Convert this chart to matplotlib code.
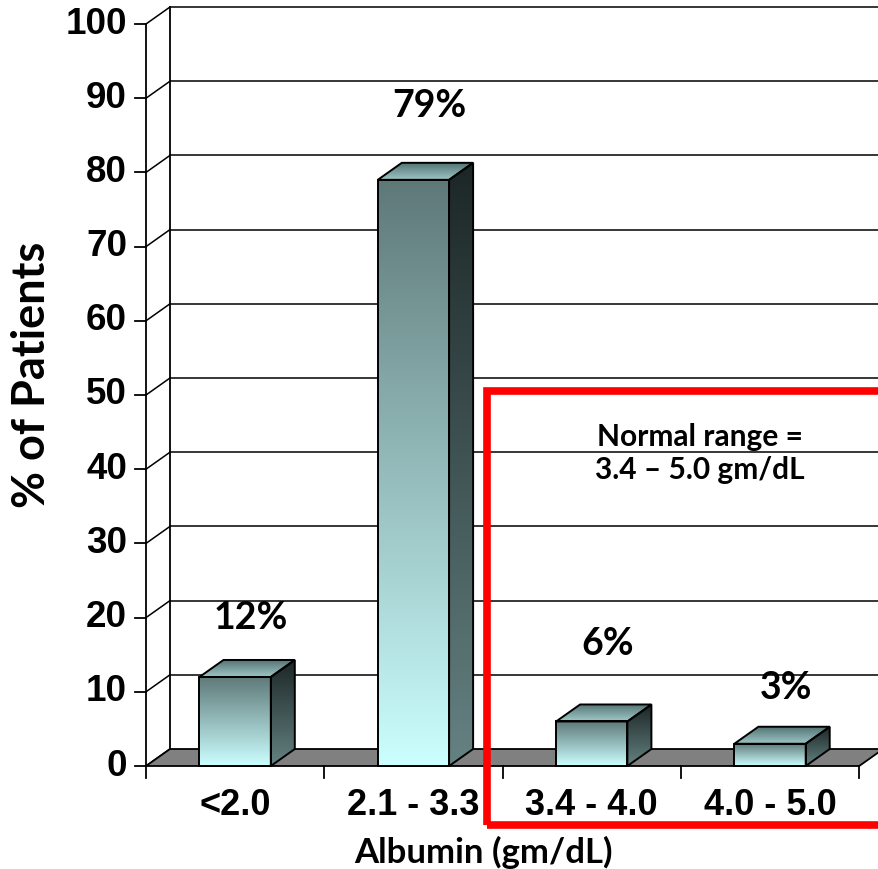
import numpy as np
import matplotlib
matplotlib.use('Agg')
import matplotlib.pyplot as plt
from matplotlib.patches import Polygon, Rectangle
from matplotlib.colors import LinearSegmentedColormap

categories = ['<2.0', '2.1 - 3.3', '3.4 - 4.0', '4.0 - 5.0']
percent = [12, 79, 6, 3]
value_labels = ['12%', '79%', '6%', '3%']
label_lift = [8, 10, 10.5, 7.5]
yticks = list(range(0, 101, 10))

# pixel geometry of the pseudo-3D frame
W, H = 879, 869
x0_px, slot_px = 146, 178.3
y0_px, unit_px = 766, 7.42
DX = 24 / slot_px       # depth offset, x direction
DY = 17 / unit_px       # depth offset, y direction
BAR_W = 0.40

fig = plt.figure(figsize=(W / 100, H / 100), dpi=100)
ax = fig.add_axes([0, 0, 1, 1])
ax.set_xlim(-x0_px / slot_px - 0.5, (W - x0_px) / slot_px - 0.5)
ax.set_ylim(-(H - y0_px) / unit_px, y0_px / unit_px)
ax.axis('off')

arial = 'Liberation Sans'
calib = 'Lato'

# back wall grid and side wall
left, right = -0.5, 3.5
for v in yticks:
    if v > 0:
        ax.plot([left + DX, 4.5], [v + DY, v + DY], color='black', lw=1.1, zorder=1)
    ax.plot([left, left + DX], [v, v + DY], color='black', lw=1.1, zorder=1)
    ax.plot([left - 11 / slot_px, left], [v, v], color='black', lw=1.3, zorder=1)
    ax.text(left - 19 / slot_px, v, str(v), ha='right', va='center',
            fontsize=26.5, fontweight='bold', family=arial)
ax.plot([left, left], [0, 100], color='black', lw=1.3, zorder=1)
ax.plot([left + DX, left + DX], [DY, 100 + DY], color='black', lw=1.3, zorder=1)

# floor
floor = Polygon([(left, 0), (right, 0), (right + DX, DY), (4.5, DY), (4.5, DY),
                 (left + DX, DY)], closed=True, facecolor='#808080',
                edgecolor='black', lw=1.3, zorder=2)
ax.add_patch(floor)
for i in range(len(categories) + 1):
    xt = left + i
    ax.plot([xt, xt], [0, -12 / unit_px], color='black', lw=1.3, zorder=2)


def shaded(poly, c_top, c_bot, extent):
    patch = Polygon(poly, closed=True, facecolor='none', edgecolor='black',
                    lw=1.4, zorder=4)
    ax.add_patch(patch)
    cmap = LinearSegmentedColormap.from_list('g', [c_top, c_bot])
    grad = np.linspace(0, 1, 256).reshape(-1, 1)
    im = ax.imshow(grad, cmap=cmap, extent=extent, aspect='auto',
                   origin='upper', zorder=3, interpolation='bilinear')
    im.set_clip_path(patch)


for i, v in enumerate(percent):
    xl, xr = i - BAR_W / 2, i + BAR_W / 2
    front = [(xl, 0), (xr, 0), (xr, v), (xl, v)]
    side = [(xr, 0), (xr + DX, DY), (xr + DX, v + DY), (xr, v)]
    top = [(xl, v), (xr, v), (xr + DX, v + DY), (xl + DX, v + DY)]
    shaded(front, '#5e7878', '#ccffff', (xl, xr, 0, v))
    shaded(side, '#1c2626', '#658282', (xr, xr + DX, 0, v + DY))
    shaded(top, '#557575', '#9fc6c6', (xl, xr + DX, v, v + DY))
    ax.text(i + DX / 2 + 0.02, v + label_lift[i], value_labels[i], ha='center',
            va='center', fontsize=27, fontweight='bold', family=calib)
    ax.text(i, -5.26, categories[i], ha='center', va='center', fontsize=26,
            fontweight='bold', family=arial)

# normal range box
box = Rectangle((1.4125, -7.95), 3.0, 58.5, facecolor='none',
                edgecolor='#ff0000', lw=5.5, zorder=6)
ax.add_patch(box)
ax.text(2.607, 44.3, 'Normal range =', ha='center', va='center', fontsize=21.5,
        fontweight='bold', family=calib, zorder=7)
ax.text(2.607, 39.9, '3.4 \u2013 5.0 gm/dL', ha='center', va='center',
        fontsize=21.5, fontweight='bold', family=calib, zorder=7)

fig.text(483 / W, 1 - 852 / H, 'Albumin (gm/dL)', ha='center', va='center',
         fontsize=25, fontweight='bold', family=calib)
fig.text(32 / W, 1 - 375 / H, '% of Patients', ha='center', va='center',
         rotation=90, fontsize=32.5, fontweight='bold', family=calib)

fig.savefig('out.png', dpi=100)
